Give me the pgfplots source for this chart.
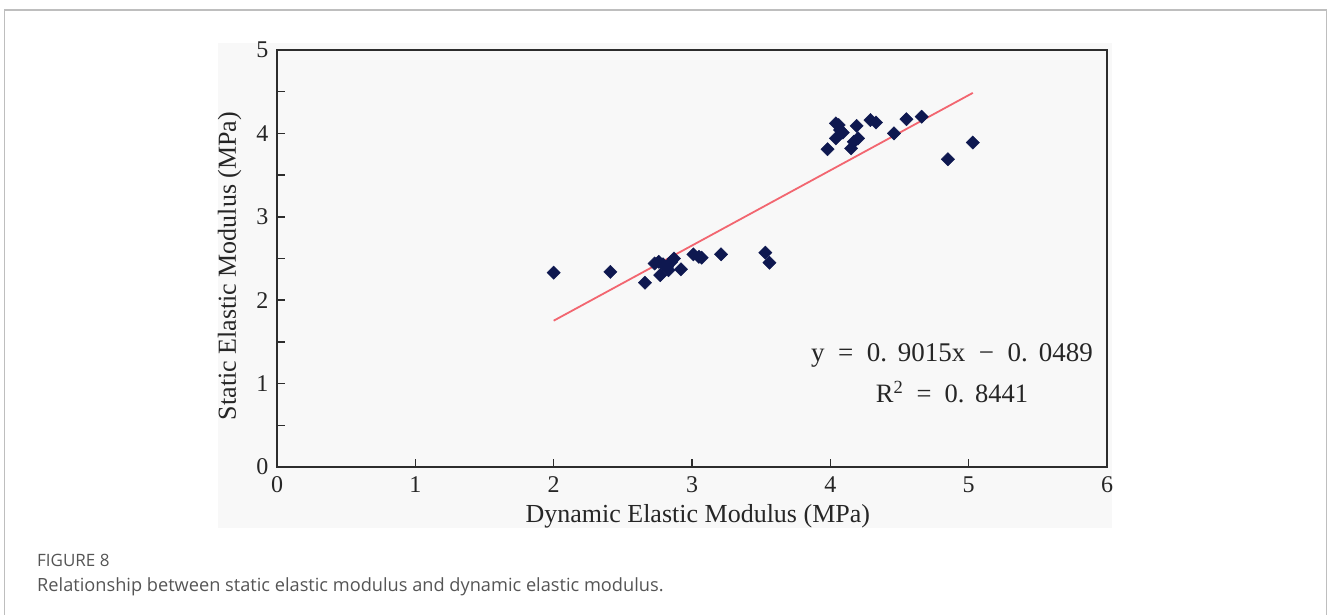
\documentclass[border=0pt]{standalone}
\usepackage{pgfplots}
\pgfplotsset{compat=1.18}
\usepackage{fontspec}
\setmainfont{Liberation Serif}
\newfontfamily\capfont{Open Sans}
\definecolor{navy}{RGB}{14,24,80}
\definecolor{fitred}{RGB}{242,102,112}
\definecolor{framegray}{RGB}{45,45,45}
\definecolor{bggray}{RGB}{248,248,248}
\definecolor{bordergray}{RGB}{190,190,190}
\definecolor{capgray}{RGB}{85,85,85}
\pgfplotstableread{
x y
2.00 2.33
2.41 2.34
2.66 2.21
2.73 2.44
2.76 2.46
2.77 2.30
2.79 2.43
2.82 2.40
2.83 2.36
2.85 2.46
2.87 2.50
2.92 2.37
3.01 2.55
3.05 2.52
3.07 2.51
3.21 2.55
3.53 2.57
3.56 2.45
3.98 3.81
4.04 3.94
4.04 4.12
4.07 4.04
4.09 4.01
4.06 4.10
4.15 3.82
4.17 3.90
4.20 3.94
4.19 4.09
4.29 4.16
4.33 4.13
4.46 4.00
4.55 4.17
4.66 4.20
4.85 3.69
5.03 3.89
}\datatable
\begin{document}
\begin{tikzpicture}[x=1pt,y=1pt]
\useasboundingbox (0,0) rectangle (1328,615);
\draw[bordergray, line width=1.3pt] (4.7,-10) -- (4.7,605) -- (1326.5,605) -- (1326.5,-10);
\fill[bggray] (218,87) rectangle (1112,572);
\begin{axis}[
 at={(277pt,148pt)}, anchor=south west,
 scale only axis, width=830pt, height=417pt,
 xmin=0, xmax=6, ymin=0, ymax=5,
 xtick={0,...,6}, ytick={0,...,5}, minor ytick={0.5,1.5,...,4.5},
 tick align=inside,
 xtick pos=bottom, ytick pos=left,
 major tick length=8pt, minor tick length=8pt,
 axis line style={framegray, line width=2.2pt},
 every tick/.style={framegray, line width=1.5pt},
 tick label style={font=\fontsize{24}{24}\selectfont, text=black!85},
 xticklabel style={yshift=-6pt},
 yticklabel style={xshift=-5pt},
 /pgf/number format/assume math mode=true,
 xlabel={Dynamic Elastic Modulus (MPa)},
 ylabel={Static Elastic Modulus (MPa)},
 label style={font=\fontsize{26}{26}\selectfont, text=black!85},
 xlabel style={at={(axis description cs:0.507,-0.118)}, anchor=center},
 ylabel style={at={(axis description cs:-0.057,0.482)}, anchor=center},
 clip=false,
]
\addplot[only marks, mark=square*, mark size=4.7pt, mark options={rotate=45, fill=navy, draw=navy}] table[x=x,y=y] {\datatable};
\addplot[fitred, line width=1.8pt] coordinates {(2,1.7541) (5.03,4.4856)};
\end{axis}
\node[font=\fontsize{27}{27}\selectfont, text=black!85] at (952,260) {y\hspace{0.5em}=\hspace{0.5em}0.\hspace{0.4em}9015x\hspace{0.5em}−\hspace{0.5em}0.\hspace{0.4em}0489};
\node[font=\fontsize{26.5}{26.5}\selectfont, text=black!85] at (952,223) {R\textsuperscript{2}\hspace{0.5em}=\hspace{0.5em}0.\hspace{0.4em}8441};
\node[anchor=base west, font=\capfont\fontsize{17}{17}\selectfont, text=capgray, inner sep=0pt] at (37,48) {FIGURE 8};
\node[anchor=base west, font=\capfont\fontsize{18.2}{18.2}\selectfont, text=capgray, inner sep=0pt] at (37,23) {Relationship between static elastic modulus and dynamic elastic modulus.};
\end{tikzpicture}
\end{document}
